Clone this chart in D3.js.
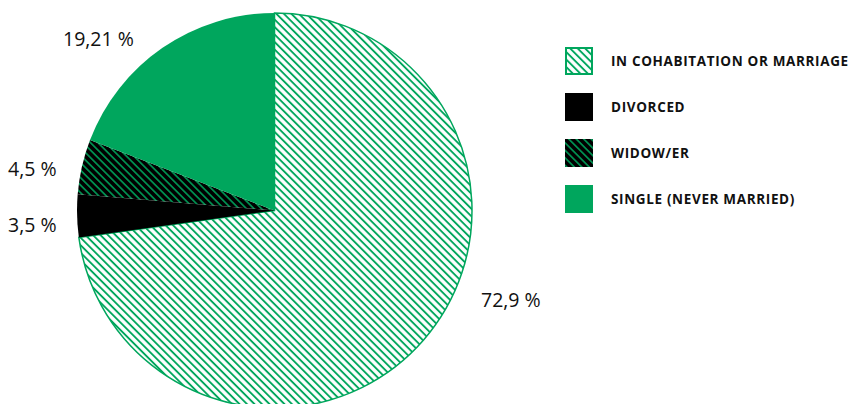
<!DOCTYPE html>
<html>
<head>
<meta charset="utf-8">
<script src="https://cdn.jsdelivr.net/npm/d3@7"></script>
<style>
  body { margin: 0; background: #fff; }
  svg { display: block; }
</style>
</head>
<body>
<div id="chart-area"></div>
<script>
// data
let categories = ["IN COHABITATION OR MARRIAGE", "DIVORCED", "WIDOW/ER", "SINGLE (NEVER MARRIED)"];
let values = [72.9, 3.5, 4.5, 19.21];
let valueLabels = ["72,9 %", "3,5 %", "4,5 %", "19,21 %"];

let green = "#00a65d";
let width = 851, height = 404;
let cx = 274.5, cy = 210.5, radius = 197.5;

let svg = d3.select("#chart-area")
            .append("svg")
            .attr("width", width)
            .attr("height", height);

// hatch patterns
let defs = svg.append("defs");
function hatch(id, bg, fg, gap, sw) {
    let p = defs.append("pattern")
        .attr("id", id)
        .attr("patternUnits", "userSpaceOnUse")
        .attr("width", gap)
        .attr("height", gap)
        .attr("patternTransform", "rotate(-45)");
    p.append("rect").attr("width", gap).attr("height", gap).attr("fill", bg);
    p.append("line")
        .attr("x1", gap / 2).attr("y1", 0)
        .attr("x2", gap / 2).attr("y2", gap)
        .attr("stroke", fg)
        .attr("stroke-width", sw);
}
hatch("hatch-green", "#fff", green, 5.3, 1.9);
hatch("hatch-black", "#000", green, 5.3, 1.5);

let fills = ["url(#hatch-green)", "#000", "url(#hatch-black)", green];

let pie = d3.pie().sort(null).value(function(d){ return d; });
let arcs = pie(values);
let arc = d3.arc().innerRadius(0).outerRadius(radius);

let g = svg.append("g")
        .attr("transform", "translate(" + cx + "," + cy + ")");

g.selectAll("path")
    .data(arcs)
    .enter()
    .append("path")
    .attr("d", arc)
    .attr("fill", function(d, i){ return fills[i]; })
    .attr("stroke", function(d, i){ return i == 0 ? green : "none"; })
    .attr("stroke-width", 1.5);

// value labels
let labelPos = [[481, 307], [8, 232], [8, 176], [63, 46]];
svg.selectAll("text.value")
    .data(valueLabels)
    .enter()
    .append("text")
    .attr("class", "value")
    .attr("x", function(d, i){ return labelPos[i][0]; })
    .attr("y", function(d, i){ return labelPos[i][1]; })
    .attr("font-family", "Open Sans, sans-serif")
    .attr("font-size", "19.5px")
    .attr("fill", "#111")
    .text(function(d){ return d; });

// legend
let legend = svg.append("g")
        .attr("transform", "translate(565,47)");
let rows = legend.selectAll("g")
        .data(categories)
        .enter()
        .append("g")
        .attr("transform", function(d, i){ return "translate(0," + (i * 46) + ")"; });

rows.append("rect")
    .attr("x", function(d, i){ return i == 0 ? 1 : 0; })
    .attr("y", function(d, i){ return i == 0 ? 1 : 0; })
    .attr("width", function(d, i){ return i == 0 ? 26 : 28; })
    .attr("height", function(d, i){ return i == 0 ? 26 : 28; })
    .attr("fill", function(d, i){ return fills[i]; })
    .attr("stroke", function(d, i){ return i == 0 ? green : "none"; })
    .attr("stroke-width", 2);

rows.append("text")
    .attr("x", 46)
    .attr("y", 19)
    .attr("font-family", "Open Sans, sans-serif")
    .attr("font-weight", "bold")
    .attr("font-size", "13.5px")
    .attr("letter-spacing", "0.65px")
    .attr("fill", "#111")
    .text(function(d){ return d; });
</script>
</body>
</html>
